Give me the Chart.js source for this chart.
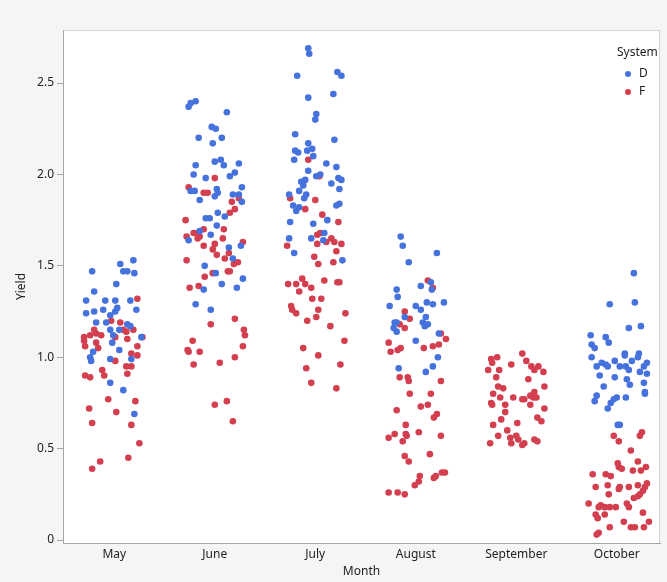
<!DOCTYPE html>
<html>
<head>
<meta charset="utf-8">
<script src="https://cdn.jsdelivr.net/npm/chart.js@4.4.0/dist/chart.umd.min.js"></script>
<style>
  html, body { margin: 0; padding: 0; background: #f5f5f5; }
  #wrap { width: 667px; height: 582px; }
</style>
</head>
<body>
<div id="wrap"><canvas id="chart" width="667" height="582"></canvas></div>
<script>
// categories
const months = ['May', 'June', 'July', 'August', 'September', 'October'];
const yTicks = [0, 0.5, 1.0, 1.5, 2.0, 2.5];

// System D: [jitter, yield] per month
const dMay = [[0.06,1.51],[0.19,1.53],[-0.22,1.47],[0.09,1.47],[0.13,1.47],[0.2,1.46],[0.02,1.40],[-0.2,1.36],[-0.28,1.31],[-0.09,1.31],[0.01,1.31],[0.16,1.31],[-0.28,1.24],[-0.2,1.25],[-0.11,1.26],[-0.04,1.23],[0.01,1.25],[0.03,1.27],[0.22,1.26],[-0.18,1.19],[-0.08,1.19],[0.13,1.18],[0.16,1.17],[-0.04,1.15],[0.05,1.15],[-0.01,1.12],[0.27,1.11],[-0.02,1.08],[0.05,1.04],[-0.21,1.03],[-0.24,1.0],[-0.23,0.98],[-0.04,0.99],[0.17,0.99],[-0.04,0.86],[0.09,0.82],[0.2,0.69]];
const dJune = [[-0.19,2.40],[-0.24,2.39],[-0.26,2.37],[0.12,2.34],[-0.03,2.26],[0.01,2.25],[-0.16,2.20],[0.07,2.20],[-0.02,2.17],[-0.19,2.05],[0,2.07],[0.06,2.08],[0.09,2.05],[0.24,2.06],[-0.21,2.0],[-0.09,1.98],[0.15,1.99],[0.2,2.01],[0.27,1.93],[-0.24,1.91],[-0.2,1.91],[0.02,1.92],[0.03,1.9],[0.18,1.89],[0.24,1.89],[0,1.88],[0.27,1.85],[-0.15,1.86],[0.03,1.79],[-0.09,1.76],[-0.05,1.76],[0.1,1.77],[0.02,1.72],[-0.15,1.69],[-0.04,1.67],[-0.26,1.64],[0.26,1.61],[0.14,1.6],[0.18,1.54],[-0.1,1.5],[0.01,1.46],[0.28,1.43],[0.07,1.40],[0.22,1.38],[-0.11,1.37],[-0.19,1.29],[-0.04,1.26]];
const dJuly = [[-0.07,2.69],[-0.06,2.66],[-0.18,2.54],[0.22,2.56],[0.26,2.54],[-0.07,2.42],[0.18,2.44],[0.01,2.33],[0,2.30],[-0.2,2.22],[0.19,2.19],[-0.07,2.17],[-0.2,2.13],[-0.17,2.12],[-0.08,2.13],[-0.03,2.14],[-0.02,2.10],[-0.21,2.08],[-0.07,2.02],[0.11,2.06],[0.21,2.04],[0.01,1.99],[0.05,2.0],[-0.14,1.96],[-0.1,1.97],[-0.12,1.94],[0.23,1.98],[0.26,1.97],[0.16,1.95],[-0.16,1.91],[0.24,1.92],[-0.26,1.89],[-0.09,1.89],[-0.11,1.87],[-0.22,1.83],[-0.19,1.8],[-0.16,1.82],[0.24,1.84],[0.21,1.83],[-0.25,1.74],[-0.02,1.73],[0.12,1.75],[-0.26,1.65],[-0.04,1.65],[0.09,1.68],[0.08,1.64],[-0.21,1.57],[0.27,1.53]];
const dAugust = [[-0.15,1.66],[-0.13,1.61],[0.21,1.57],[-0.07,1.52],[0.15,1.41],[0.05,1.39],[0.16,1.37],[-0.19,1.37],[-0.18,1.33],[-0.26,1.28],[0,1.28],[0.05,1.26],[0.11,1.30],[0.17,1.29],[0.28,1.30],[-0.11,1.22],[0.1,1.22],[-0.21,1.19],[-0.19,1.19],[0.07,1.19],[0.09,1.17],[0.12,1.18],[-0.22,1.16],[-0.19,1.14],[0.23,1.13],[0,1.09],[0.22,1.0],[-0.17,0.94],[0.17,0.95],[0.1,0.92]];
const dSeptember = [];
const dOctober = [[0.17,1.46],[-0.07,1.29],[0.18,1.30],[0.12,1.16],[0.24,1.17],[-0.26,1.12],[-0.11,1.11],[-0.08,1.08],[-0.25,1.07],[-0.22,1.05],[-0.25,1.0],[0.08,1.02],[0.08,1.01],[0.22,1.02],[0.21,1.0],[0.15,0.98],[-0.15,0.97],[-0.11,0.96],[-0.09,0.95],[-0.2,0.95],[-0.02,0.98],[0.03,0.95],[0.09,0.95],[0.3,0.97],[0.27,0.95],[0.23,0.92],[0.12,0.93],[0.3,0.91],[-0.17,0.9],[-0.02,0.89],[0.1,0.88],[0.13,0.85],[0.27,0.86],[-0.13,0.84],[0.28,0.81],[0.28,0.80],[-0.2,0.79],[-0.22,0.76],[0,0.78],[-0.03,0.77],[-0.06,0.75],[0.09,0.78],[-0.09,0.72],[0.01,0.63],[0.03,0.63]];

// System F: [jitter, yield] per month
const fMay = [[0.23,1.32],[-0.03,1.2],[0.06,1.19],[0.09,1.15],[0.12,1.14],[0.19,1.15],[-0.2,1.15],[-0.18,1.13],[-0.13,1.12],[-0.24,1.12],[-0.3,1.11],[0.01,1.11],[0.13,1.10],[0.28,1.11],[-0.3,1.09],[-0.29,1.06],[-0.18,1.08],[-0.16,1.05],[0.23,1.06],[0.17,1.02],[0.23,1.01],[0.01,0.98],[0.12,0.95],[0.17,0.95],[-0.12,0.93],[0.13,0.91],[-0.29,0.9],[-0.24,0.89],[-0.1,0.9],[-0.06,0.77],[0.21,0.76],[-0.25,0.72],[0.02,0.70],[-0.22,0.64],[0.17,0.63],[0.25,0.53],[0.14,0.45],[-0.14,0.43],[-0.22,0.39]];
const fJune = [[0,1.98],[-0.26,1.93],[-0.11,1.9],[-0.07,1.9],[0.24,1.87],[0.17,1.85],[0.2,1.81],[0.15,1.79],[-0.29,1.75],[-0.11,1.70],[-0.17,1.68],[-0.21,1.68],[-0.15,1.66],[-0.17,1.65],[-0.28,1.66],[0.09,1.70],[0.08,1.65],[0.28,1.63],[0,1.62],[-0.11,1.61],[-0.02,1.59],[0.14,1.57],[0.02,1.56],[0.1,1.54],[-0.28,1.53],[0.19,1.51],[0.23,1.52],[0.15,1.47],[0.13,1.47],[-0.02,1.46],[-0.1,1.44],[-0.16,1.39],[-0.25,1.38],[0.2,1.21],[-0.04,1.18],[0.29,1.15],[0.3,1.12],[-0.22,1.09],[-0.27,1.04],[-0.26,1.03],[-0.15,1.03],[0.28,1.06],[0.2,1.0],[-0.21,0.96],[0.05,0.97],[0.12,0.76],[0,0.74],[0.18,0.65]];
const fJuly = [[-0.07,2.08],[0.04,1.99],[-0.25,1.87],[0,1.86],[-0.1,1.81],[0.07,1.78],[0.23,1.74],[0.02,1.67],[0.05,1.68],[0.16,1.65],[-0.28,1.61],[0.02,1.62],[0.11,1.63],[0.19,1.63],[0.26,1.62],[0.21,1.58],[-0.01,1.55],[0.03,1.51],[0.18,1.52],[-0.27,1.40],[-0.19,1.40],[-0.13,1.43],[-0.1,1.40],[0.09,1.42],[0.22,1.41],[0.24,1.41],[-0.16,1.36],[-0.04,1.38],[-0.03,1.32],[0.06,1.32],[-0.24,1.28],[-0.23,1.26],[-0.19,1.24],[0.03,1.26],[0.01,1.22],[-0.08,1.2],[0.3,1.24],[0.15,1.17],[0.29,1.09],[-0.12,1.05],[0.03,1.01],[0.25,0.96],[-0.09,0.94],[-0.04,0.86],[0.21,0.83]];
const fAugust = [[0.12,1.42],[0.17,1.38],[-0.11,1.25],[-0.06,1.21],[-0.16,1.18],[-0.11,1.16],[0.25,1.13],[0.3,1.10],[-0.27,1.08],[-0.25,1.03],[-0.18,1.04],[-0.15,1.05],[0.08,1.05],[0.17,1.06],[0.23,1.07],[-0.16,0.89],[-0.08,0.89],[-0.07,0.87],[0.25,0.87],[-0.06,0.8],[0.15,0.8],[-0.19,0.71],[0.05,0.73],[0.12,0.74],[0.21,0.69],[0.18,0.67],[-0.1,0.63],[-0.21,0.58],[-0.27,0.56],[-0.1,0.58],[-0.09,0.57],[-0.13,0.54],[0.03,0.59],[0.25,0.57],[-0.11,0.46],[-0.07,0.43],[0.14,0.47],[0.04,0.35],[0.03,0.32],[-0.01,0.30],[0.18,0.34],[0.2,0.35],[0.26,0.37],[0.29,0.37],[-0.27,0.26],[-0.18,0.26],[-0.11,0.25]];
const fSeptember = [[0.06,1.02],[-0.19,1.0],[-0.25,0.99],[-0.24,0.97],[0.1,0.98],[-0.05,0.96],[0.15,0.95],[0.18,0.93],[0.22,0.95],[0.27,0.92],[-0.28,0.93],[-0.17,0.93],[-0.2,0.89],[0.12,0.88],[0.28,0.84],[-0.18,0.84],[-0.13,0.83],[-0.23,0.8],[-0.16,0.78],[-0.03,0.78],[0.06,0.77],[0.08,0.77],[0.14,0.79],[0.18,0.81],[0.2,0.78],[0.17,0.78],[-0.25,0.75],[-0.24,0.74],[-0.11,0.74],[0.14,0.74],[0.28,0.72],[-0.11,0.70],[-0.15,0.66],[0.21,0.67],[0.25,0.65],[0.01,0.64],[-0.23,0.63],[-0.09,0.60],[-0.18,0.57],[-0.06,0.56],[0,0.57],[0.02,0.55],[0.18,0.55],[0.21,0.54],[-0.26,0.53],[-0.05,0.53],[0.08,0.53],[0.06,0.52]];
const fOctober = [[0.25,0.59],[0.23,0.57],[-0.03,0.57],[0.02,0.54],[0.14,0.49],[0.01,0.42],[0.02,0.40],[0.05,0.39],[0.21,0.43],[0.24,0.38],[0.29,0.40],[0.16,0.38],[-0.24,0.36],[-0.11,0.36],[-0.06,0.35],[-0.21,0.29],[-0.09,0.30],[0.03,0.29],[0.02,0.28],[0.12,0.29],[0.21,0.30],[0.3,0.31],[0.28,0.29],[-0.08,0.25],[0.26,0.27],[0.23,0.25],[0.21,0.24],[0.17,0.23],[-0.28,0.20],[-0.16,0.19],[-0.18,0.18],[-0.12,0.18],[-0.07,0.18],[-0.01,0.18],[0.1,0.20],[0.12,0.18],[-0.21,0.14],[-0.19,0.12],[-0.12,0.14],[0.26,0.15],[0.07,0.10],[0.32,0.10],[0.14,0.07],[0.18,0.07],[0.27,0.07],[-0.07,0.07],[-0.18,0.04],[-0.2,0.03]];

const systems = ['D', 'F'];
const colors = ['#4572dc', '#d33f4f'];
const FONT = '"Noto Sans", "Open Sans", sans-serif';

function toPoints(groups) {
    return groups.flatMap((arr, i) => arr.map(([j, y]) => ({ x: i + j, y: y })));
}

const seriesD = toPoints([dMay, dJune, dJuly, dAugust, dSeptember, dOctober]);
const seriesF = toPoints([fMay, fJune, fJuly, fAugust, fSeptember, fOctober]);

// white plot area + light frame
const plotFrame = {
    id: 'plotFrame',
    beforeDraw(chart) {
        const { ctx, chartArea: a } = chart;
        ctx.save();
        ctx.fillStyle = '#ffffff';
        ctx.fillRect(a.left, a.top, a.right - a.left, a.bottom - a.top);
        ctx.strokeStyle = '#d4d4d4';
        ctx.lineWidth = 1;
        ctx.strokeRect(a.left + 0.5, a.top + 0.5, a.right - a.left - 1, a.bottom - a.top);
        ctx.restore();
    }
};

// axis titles and legend
const decorations = {
    id: 'decorations',
    afterDraw(chart) {
        const { ctx, chartArea: a } = chart;
        ctx.save();
        ctx.fillStyle = '#222';
        ctx.font = '12px ' + FONT;
        ctx.textAlign = 'center';
        ctx.textBaseline = 'middle';
        ctx.fillText('Month', (a.left + a.right) / 2, 572);
        ctx.save();
        ctx.translate(22, (a.top + a.bottom) / 2);
        ctx.rotate(-Math.PI / 2);
        ctx.fillText('Yield', 0, 0);
        ctx.restore();

        ctx.textAlign = 'left';
        ctx.fillText('System', 617, 53);
        systems.forEach((s, i) => {
            const y = 74 + i * 18;
            ctx.fillStyle = colors[i];
            ctx.beginPath();
            ctx.arc(628, y, 3, 0, Math.PI * 2);
            ctx.fill();
            ctx.fillStyle = '#222';
            ctx.fillText(s, 639, y);
        });
        ctx.restore();
    }
};

new Chart(document.getElementById('chart'), {
    type: 'scatter',
    data: {
        datasets: [
            { label: systems[0], data: seriesD, backgroundColor: colors[0], borderWidth: 0, pointRadius: 3.3, pointHoverRadius: 3.3 },
            { label: systems[1], data: seriesF, backgroundColor: colors[1], borderWidth: 0, pointRadius: 3.3, pointHoverRadius: 3.3 }
        ]
    },
    options: {
        responsive: false,
        animation: false,
        events: [],
        layout: { padding: { top: 30, right: 7, left: 0, bottom: 0 } },
        plugins: { legend: { display: false }, tooltip: { enabled: false } },
        scales: {
            x: {
                type: 'linear',
                min: -0.51,
                max: 5.43,
                afterBuildTicks: s => { s.ticks = months.map((m, i) => ({ value: i })); },
                afterFit: s => { s.height = 39; },
                ticks: {
                    callback: v => months[v],
                    color: '#222',
                    font: { family: FONT, size: 12 },
                    padding: 4,
                    maxRotation: 0,
                    autoSkip: false
                },
                grid: { display: true, drawOnChartArea: false, drawTicks: false },
                border: { display: true, color: '#a6a6a6', width: 1 }
            },
            y: {
                min: -0.016,
                max: 2.79,
                afterBuildTicks: s => { s.ticks = yTicks.map(v => ({ value: v })); },
                afterFit: s => { s.width = 63; },
                ticks: {
                    callback: v => (v === 0 ? '0' : v.toFixed(1)),
                    color: '#222',
                    font: { family: FONT, size: 12 },
                    padding: 3
                },
                grid: { display: true, drawOnChartArea: false, drawTicks: true, tickLength: 6, color: '#a6a6a6' },
                border: { display: true, color: '#a6a6a6', width: 1 }
            }
        }
    },
    plugins: [plotFrame, decorations]
});
</script>
</body>
</html>
